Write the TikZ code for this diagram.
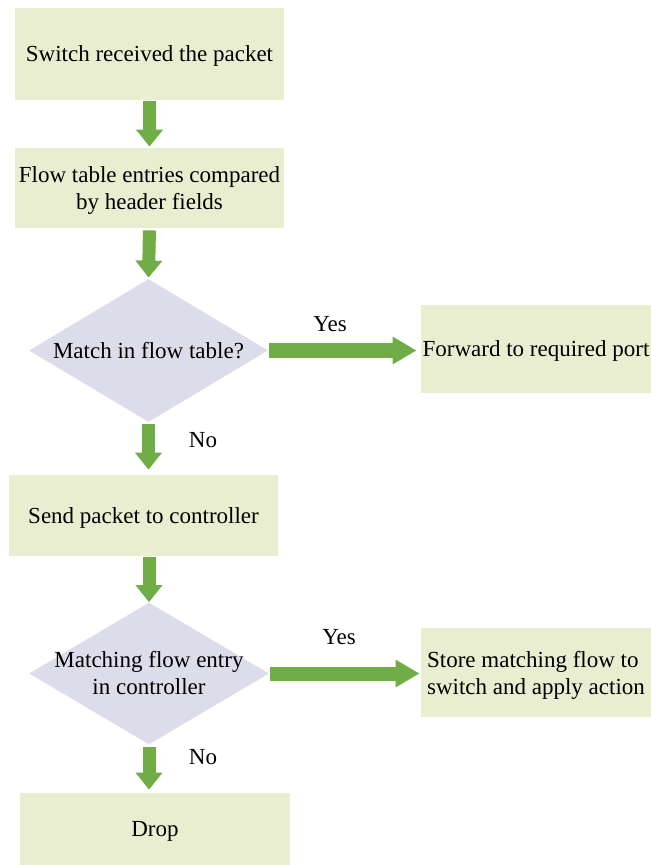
\documentclass[tikz,border=0pt]{standalone}
\usepackage{fontspec}
\setmainfont{Liberation Serif}
\usetikzlibrary{shapes.geometric,arrows.meta}
\definecolor{BoxGreen}{RGB}{233,238,208}
\definecolor{Lavender}{RGB}{221,220,235}
\definecolor{ArrowGreen}{RGB}{112,173,71}

\tikzset{
  txt/.style={font=\fontsize{11.5pt}{13.5pt}\selectfont},
  stepbox/.style={txt,rectangle,fill=BoxGreen,inner sep=0pt,align=center,text depth=0pt},
  decision/.style={diamond,fill=Lavender,inner sep=0pt},
  downarrow/.style={ArrowGreen,line width=6.5pt,-{Triangle[width=13pt,length=8.5pt]}},
  sidearrow/.style={ArrowGreen,line width=7pt,-{Triangle[width=13pt,length=12pt]}}
}

\begin{document}
\begin{tikzpicture}[x=0.5pt,y=-0.5pt]
\useasboundingbox (0,0) rectangle (651,865);

\node[stepbox,minimum width=134.5pt,minimum height=46pt] (recv) at (149.5,54) {Switch received the packet};
\node[stepbox,minimum width=134.5pt,minimum height=40pt] (compare) at (149.5,188) {Flow table entries compared\\by header fields};
\node[decision,minimum width=119.5pt,minimum height=71.5pt,
      label={[txt]center:Match in flow table?}] (match) at (148.5,350.5) {};
\node[stepbox,minimum width=115pt,minimum height=44pt] (fwd) at (536,349) {Forward to required port};
\node[stepbox,minimum width=134.5pt,minimum height=40.5pt] (sendctl) at (143.5,515.5) {Send packet to controller};
\node[decision,minimum width=120pt,minimum height=71pt,
      label={[txt,align=center]center:Matching flow entry\\in controller}] (ctlmatch) at (149,673.5) {};
\node[stepbox,minimum width=115pt,minimum height=44.5pt,align=left] (store) at (536,672.5) {Store matching flow to\\switch and apply action};
\node[stepbox,minimum width=135pt,minimum height=36pt] (drop) at (155,829) {Drop};

% labels on the branches
\node[txt] (yesfwd) at (330,324) {Yes};
\node[txt] (nofwd) at (203,440) {No};
\node[txt] (yesstore) at (339,637) {Yes};
\node[txt] (nostore) at (203,757) {No};

% connectors
\draw[downarrow,shorten <=0.5pt,shorten >=0.5pt] (recv.south) -- (compare.north);
\draw[downarrow,shorten <=1pt,shorten >=0.5pt] (compare.south) -- (match.north);
\draw[sidearrow,shorten <=0.5pt,shorten >=2pt] (match.east) -- (fwd.west |- match.east);
\draw[downarrow,shorten <=1pt,shorten >=2.5pt] (match.south) -- (match.south |- sendctl.north);
\draw[downarrow,shorten <=0.5pt,shorten >=0pt] (ctlmatch.north |- sendctl.south) -- (ctlmatch.north);
\draw[sidearrow,shorten <=0.5pt,shorten >=0.5pt] (ctlmatch.east) -- (store.west |- ctlmatch.east);
\draw[downarrow,shorten <=1pt,shorten >=1.5pt] (ctlmatch.south) -- (ctlmatch.south |- drop.north);

\end{tikzpicture}
\end{document}
